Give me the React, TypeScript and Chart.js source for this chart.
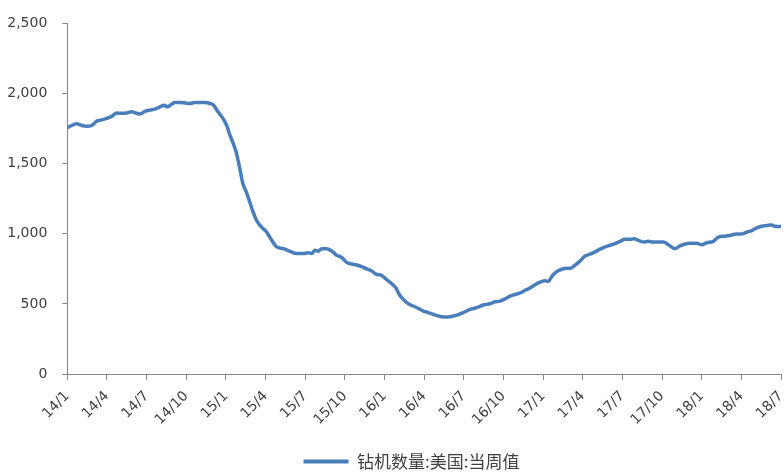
import { useEffect, useRef } from 'react';
import { Chart, registerables } from 'chart.js';

Chart.register(...registerables);

const seriesName = '钻机数量:美国:当周值';

const quarterLabels = [
  '14/1', '14/4', '14/7', '14/10',
  '15/1', '15/4', '15/7', '15/10',
  '16/1', '16/4', '16/7', '16/10',
  '17/1', '17/4', '17/7', '17/10',
  '18/1', '18/4', '18/7',
];

// months elapsed since 2014/1 for each reading
const monthsSince2014 = [
  0, 0.33, 0.71, 1.09, 1.47, 1.85, 2.23, 2.6, 2.98, 3.36,
  3.74, 4.12, 4.49, 4.87, 5.25, 5.5, 5.88, 6.26, 6.64, 7.01,
  7.32, 7.57, 7.9, 8.15, 8.53, 8.91, 9.28, 9.66, 10.04, 10.42,
  10.8, 11.05, 11.43, 11.8, 12.06, 12.31, 12.56, 12.77, 12.94, 13.12,
  13.27, 13.57, 13.82, 14.07, 14.33, 14.71, 15.09, 15.47, 15.84, 16.34,
  16.85, 17.36, 17.86, 18.24, 18.49, 18.74, 18.99, 19.25, 19.63, 20.01,
  20.38, 20.76, 21.14, 21.52, 21.9, 22.28, 22.65, 23.03, 23.36, 23.79,
  24.17, 24.55, 24.87, 25.12, 25.42, 25.8, 26.18, 26.56, 26.94, 27.32,
  27.69, 28.07, 28.45, 28.83, 29.21, 29.59, 29.96, 30.47, 30.98, 31.48,
  31.99, 32.36, 32.74, 33.12, 33.5, 33.88, 34.26, 34.64, 35.01, 35.39,
  35.77, 36.15, 36.4, 36.65, 37.03, 37.41, 37.79, 38.09, 38.42, 38.79,
  39.17, 39.55, 39.93, 40.31, 40.69, 41.07, 41.44, 41.82, 42.2, 42.58,
  42.88, 43.21, 43.58, 43.96, 44.34, 44.72, 45.1, 45.48, 45.98, 46.36,
  46.74, 47.12, 47.62, 48.0, 48.38, 48.88, 49.26, 49.76, 50.14, 50.65,
  51.03, 51.41, 51.79, 52.17, 52.54, 52.92, 53.3, 53.55, 54.0,
];

const rigCount = [
  1756, 1772, 1784, 1772, 1767, 1772, 1803, 1812, 1823, 1837,
  1861, 1859, 1861, 1870, 1859, 1854, 1873, 1882, 1889, 1905,
  1917, 1905, 1924, 1936, 1936, 1933, 1929, 1936, 1936, 1936,
  1929, 1918, 1866, 1819, 1772, 1702, 1643, 1585, 1515, 1433,
  1362, 1292, 1222, 1152, 1093, 1046, 1011, 953, 906, 894,
  874, 859, 859, 864, 859, 882, 876, 894, 894, 876,
  847, 831, 796, 784, 777, 765, 749, 735, 712, 702,
  672, 644, 613, 567, 532, 501, 485, 468, 449, 438,
  426, 414, 407, 407, 414, 424, 438, 461, 473, 492,
  501, 515, 520, 536, 555, 567, 578, 597, 613, 637,
  655, 665, 660, 695, 730, 747, 754, 754, 777, 805,
  841, 854, 871, 890, 906, 918, 929, 946, 960, 960,
  964, 953, 941, 946, 941, 941, 941, 922, 894, 913,
  927, 932, 932, 922, 936, 946, 976, 983, 988, 999,
  999, 1011, 1023, 1042, 1053, 1058, 1063, 1053, 1051,
];

const lineColor = '#4A7EBB';
const axisColor = '#868686';
const textColor = '#404040';

export default function App() {
  const ref = useRef<HTMLCanvasElement>(null);

  useEffect(() => {
    document.body.style.margin = '0';
    const canvas = ref.current;
    if (!canvas) return;
    const chart = new Chart(canvas, {
      type: 'line',
      data: {
        datasets: [
          {
            label: seriesName,
            data: monthsSince2014.map((m, i) => ({ x: m, y: rigCount[i] })),
            borderColor: lineColor,
            backgroundColor: lineColor,
            borderWidth: 3.5,
            pointRadius: 0,
            cubicInterpolationMode: 'monotone',
            fill: false,
          },
        ],
      },
      options: {
        animation: false,
        responsive: false,
        devicePixelRatio: 1,
        layout: { padding: { left: 42, right: 3, top: 18, bottom: 0 } },
        plugins: {
          tooltip: { enabled: false },
          legend: {
            position: 'bottom',
            maxHeight: 24,
            labels: {
              boxWidth: 45,
              boxHeight: 4,
              padding: 4,
              color: textColor,
              font: { family: '"Noto Sans CJK SC", sans-serif', size: 17 },
              generateLabels: (c: any) =>
                c.data.datasets.map((ds: any, i: number) => ({
                  text: ds.label,
                  fillStyle: lineColor,
                  strokeStyle: lineColor,
                  lineWidth: 0,
                  hidden: false,
                  datasetIndex: i,
                  fontColor: textColor,
                })),
            },
          },
        },
        scales: {
          x: {
            type: 'linear',
            min: 0,
            max: 54,
            afterFit: (scale: any) => {
              scale.height = 75;
              scale.paddingLeft = 0;
              scale.paddingRight = 0;
            },
            grid: {
              display: true,
              drawOnChartArea: false,
              drawTicks: true,
              tickLength: 6,
              color: axisColor,
            },
            border: { display: true, color: axisColor, width: 1 },
            ticks: {
              stepSize: 3,
              autoSkip: false,
              minRotation: 45,
              maxRotation: 45,
              padding: 8,
              color: textColor,
              font: { family: '"DejaVu Sans", sans-serif', size: 14 },
              callback: (v: any) => {
                const idx = Math.round(Number(v) / 3);
                return quarterLabels[idx] ?? '';
              },
            },
          },
          y: {
            min: 0,
            max: 2500,
            afterFit: (scale: any) => {
              scale.width = 25.3;
              // let the tick labels extend into the left padding
              scale._computeLabelArea = () => undefined;
            },
            grid: {
              display: true,
              drawOnChartArea: false,
              drawTicks: true,
              tickLength: 5,
              color: axisColor,
            },
            border: { display: true, color: axisColor, width: 1 },
            ticks: {
              stepSize: 500,
              padding: 15,
              color: textColor,
              font: { family: '"DejaVu Sans", sans-serif', size: 14 },
              callback: (v: any) => Number(v).toLocaleString('en-US'),
            },
          },
        },
      },
    });
    return () => chart.destroy();
  }, []);

  return (
    <div style={{ position: 'absolute', left: 0, top: 0, width: 784, height: 473, background: '#fff' }}>
      <canvas ref={ref} width={784} height={473} style={{ width: 784, height: 473 }} />
    </div>
  );
}
